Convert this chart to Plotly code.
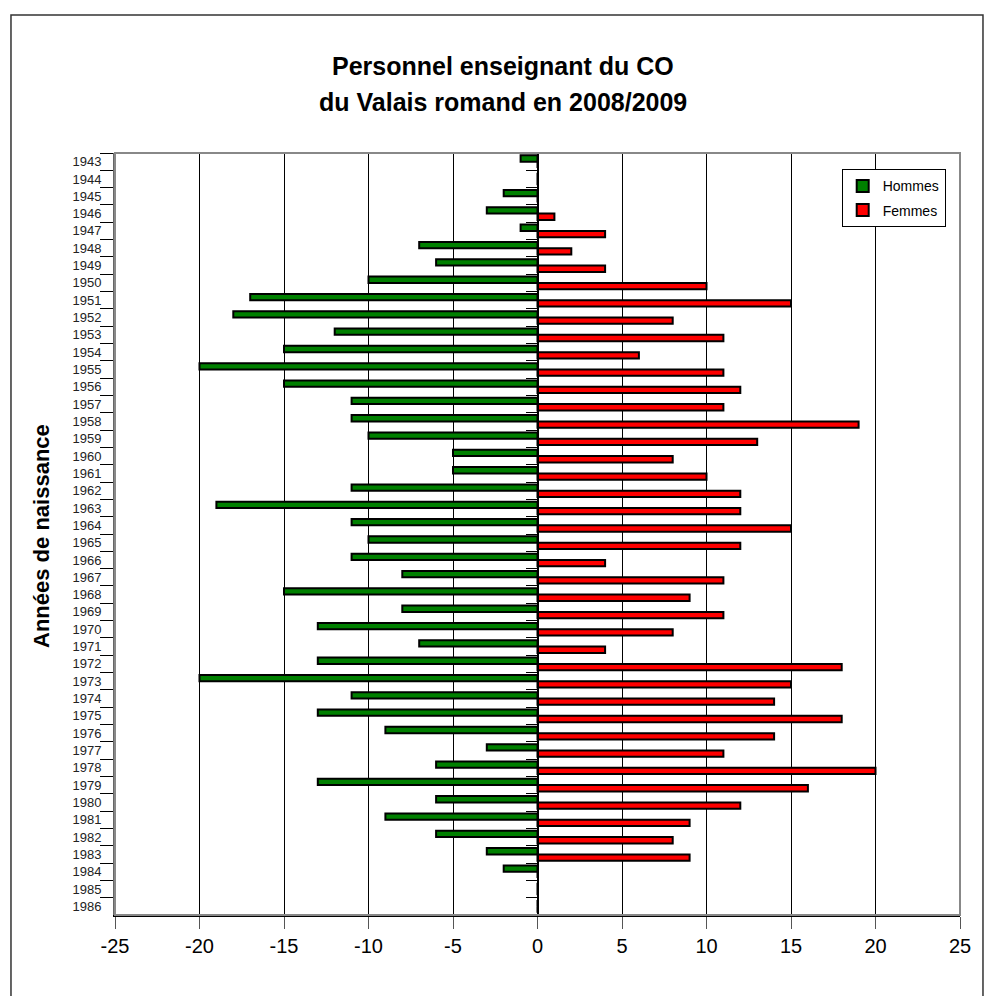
import plotly.graph_objects as go

years = [str(y) for y in range(1943, 1987)]
hommes = [-1, 0, -2, -3, -1, -7, -6, -10, -17, -18, -12, -15, -20, -15,
          -11, -11, -10, -5, -5, -11, -19, -11, -10, -11, -8, -15, -8, -13,
          -7, -13, -20, -11, -13, -9, -3, -6, -13, -6, -9, -6, -3, -2, 0, 0]
femmes = [0, 0, 0, 1, 4, 2, 4, 10, 15, 8, 11, 6, 11, 12,
          11, 19, 13, 8, 10, 12, 12, 15, 12, 4, 11, 9, 11, 8,
          4, 18, 15, 14, 18, 14, 11, 20, 16, 12, 9, 8, 9, 0, 0, 0]
x_ticks = list(range(-25, 26, 5))

title_l1 = "Personnel enseignant du CO"
title_l2 = "du Valais romand en 2008/2009"
y_title = "Années de naissance"

FONT = "Liberation Sans, Arial, sans-serif"

fig = go.Figure()
fig.add_trace(go.Bar(
    y=years, x=hommes, name="Hommes", orientation="h",
    marker=dict(color="#008000", line=dict(color="black", width=2)),
    legendgroup="h",
))
fig.add_trace(go.Bar(
    y=years, x=femmes, name="Femmes", orientation="h",
    marker=dict(color="#FF0000", line=dict(color="black", width=2)),
    legendgroup="f",
))
# invisible helper trace to carry the category axis drawn at x = 0
fig.add_trace(go.Scatter(
    y=years, x=[0] * len(years), yaxis="y2", mode="markers",
    marker=dict(opacity=0), showlegend=False, hoverinfo="skip",
))

n = len(years)
fig.update_layout(
    width=987, height=988,
    paper_bgcolor="white", plot_bgcolor="white",
    margin=dict(l=107, r=35, t=145, b=81),
    barmode="group", bargap=0.27, bargroupgap=0,
    font=dict(family=FONT, color="black"),
    showlegend=True,
    legend=dict(
        x=0.860, y=0.9786, xanchor="left", yanchor="top",
        bordercolor="black", borderwidth=1, bgcolor="white",
        font=dict(size=14, family=FONT), traceorder="grouped",
        tracegroupgap=3, itemwidth=30,
    ),
    xaxis=dict(
        range=[-25, 25], tickvals=x_ticks, ticktext=[str(v) for v in x_ticks],
        showgrid=True, gridcolor="black", gridwidth=1, zeroline=False,
        showline=True, linecolor="black", linewidth=2,
        ticks="outside", ticklen=12, tickcolor="#555", tickwidth=1,
        tickfont=dict(size=20, family=FONT),
    ),
    yaxis=dict(
        type="category", categoryorder="array", categoryarray=years,
        range=[n - 0.5, -0.5], tickson="boundaries",
        ticks="outside", ticklen=13, tickcolor="black", tickwidth=1,
        ticklabelstandoff=9,
        showline=True, linecolor="#666", linewidth=2,
        showgrid=False, tickfont=dict(size=13, family=FONT, color="#222"),
    ),
    yaxis2=dict(
        type="category", categoryorder="array", categoryarray=years,
        range=[n - 0.5, -0.5], overlaying="y", anchor="free", position=0.5,
        tickson="boundaries", ticks="outside", ticklen=11, tickcolor="black",
        tickwidth=1, showline=True, linecolor="black", linewidth=2,
        showticklabels=False, showgrid=False,
    ),
    shapes=[
        dict(type="rect", xref="x domain", yref="y domain", x0=0, x1=1, y0=0, y1=1,
             line=dict(color="#888", width=2), layer="above"),
        dict(type="rect", xref="paper", yref="paper",
             x0=-0.1231, x1=1.0272, y0=-0.12, y1=1.1811,
             line=dict(color="#333", width=1.5)),
    ],
    annotations=[
        dict(text="<b>%s</b>" % title_l1, xref="paper", yref="paper",
             x=0.4592, y=1.1148, xanchor="center", yanchor="middle",
             showarrow=False, font=dict(size=25, family=FONT)),
        dict(text="<b>%s</b>" % title_l2, xref="paper", yref="paper",
             x=0.4592, y=1.0669, xanchor="center", yanchor="middle",
             showarrow=False, font=dict(size=25, family=FONT)),
        dict(text="<b>%s</b>" % y_title, xref="paper", yref="paper",
             x=-0.0864, y=0.4974, xanchor="center", yanchor="middle",
             textangle=-90, showarrow=False, font=dict(size=22, family=FONT)),
    ],
)

fig.write_html("out.html")
